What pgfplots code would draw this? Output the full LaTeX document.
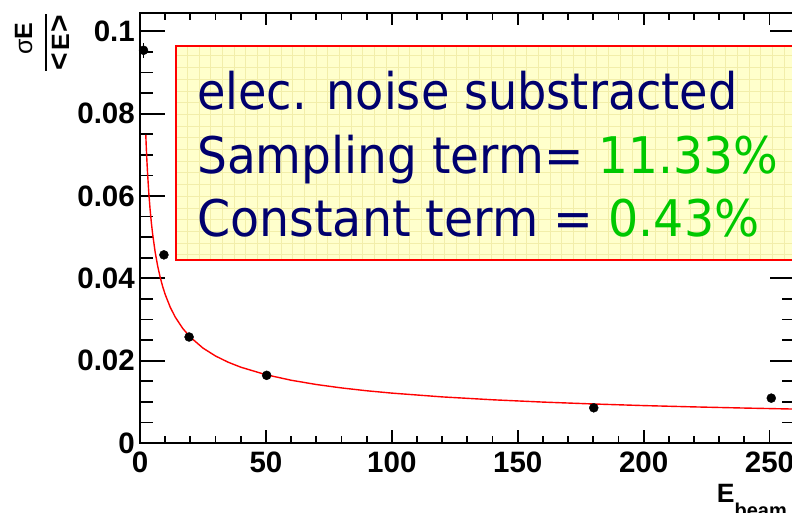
\documentclass[border=0pt]{standalone}
\usepackage{pgfplots}
\pgfplotsset{compat=1.18}
\usepackage{fontspec}
\setmainfont{Liberation Sans}
\newfontfamily\boxfont[FakeStretch=0.915]{DejaVu Sans}
\definecolor{navy}{RGB}{0,0,110}
\definecolor{fitgreen}{RGB}{0,200,0}
\definecolor{paveyellow}{RGB}{255,255,204}
\definecolor{pavegrid}{RGB}{242,238,170}

% measured energy resolution
\pgfplotstableread{
E      res      err
1.4    0.0954   0.0018
9.5    0.0457   0.0005
19.5   0.02575  0.0005
50.3   0.01644  0.0005
180.2  0.00855  0.0008
250.7  0.0109   0.0005
}\resdata

\pgfplotsset{
  frame/.style={
    at={(140pt,69pt)}, anchor=south west,
    scale only axis, width=654.7pt, height=430.2pt,
    xmin=0, xmax=260, ymin=0, ymax=0.1045,
    axis line style={line width=1.8pt},
    tick align=inside,
    every tick/.style={black, line width=1.8pt},
    ticklabel style={font=\bfseries\fontsize{29.5}{30}\selectfont, inner sep=0pt},
  }
}

\begin{document}
\begin{tikzpicture}[x=1pt,y=1pt]
\useasboundingbox (0,0) rectangle (792,512);
\clip (0,0) rectangle (792,512);
% frame with the energy ticks
\begin{axis}[frame,
  ytick=\empty,
  xtick={0,50,100,150,200,250}, xticklabels={0,50,100,150,200,250},
  minor x tick num=4,
  major tick length=12.6pt, minor tick length=7.5pt,
  xticklabel style={yshift=-9pt},
]
\end{axis}
% frame with the resolution ticks, and the data
\begin{axis}[frame,
  xtick=\empty,
  ytick={0,0.02,0.04,0.06,0.08,0.1}, yticklabels={0,0.02,0.04,0.06,0.08,0.1},
  minor y tick num=3,
  major tick length=25pt, minor tick length=13pt,
  yticklabel style={xshift=-5pt},
]
% resolution fit sqrt(a^2/E + b^2), a = 11.33%, b = 0.43%
\addplot[red, line width=1.4pt, no marks] coordinates {
  (2.3,0.07483) (2.5,0.07179) (2.75,0.06846) (3,0.06556) (3.5,0.06071)
  (4,0.05681) (4.5,0.05358) (5,0.05085) (6,0.04645) (7,0.04304)
  (8,0.04029) (9,0.03801) (10,0.03609) (12,0.03299) (14,0.03058)
  (17,0.02781) (20,0.02570) (25,0.02306) (30,0.02113) (35,0.01963)
  (40,0.01842) (50,0.01659) (60,0.01525) (70,0.01421) (80,0.01338)
  (90,0.01269) (100,0.01212) (120,0.01120) (140,0.01050) (160,0.00994)
  (180,0.00948) (200,0.00909) (220,0.00877) (240,0.00849) (260,0.00824)
};
\addplot[black, only marks, mark=*, mark size=4.5pt,
  error bars/.cd, y dir=both, y explicit, error mark=none,
  error bar style={line width=1.5pt}]
  table[x=E, y=res, y error=err] {\resdata};
\end{axis}

% fit result box
\fill[paveyellow] (176,252) rectangle (800,466);
\begin{scope}
  \clip (176,252) rectangle (800,466);
  \draw[pavegrid, line width=0.5pt] (176,252) grid[step=11.7] (800,466);
\end{scope}
\draw[red, line width=2pt] (176,252) rectangle (800,466);
\begin{scope}[every node/.style={anchor=base west, inner sep=0pt, text=navy,
    font=\boxfont\fontsize{50.5}{50.5}\selectfont}]
  \node at (197,402) {elec. noise substracted};
  \node at (197,338.7) {\scalebox{1.018}[1]{Sampling term= \textcolor{fitgreen}{11.33\%}}};
  \node at (197,275) {\scalebox{1.028}[1]{Constant term = \textcolor{fitgreen}{0.43\%}}};
\end{scope}

% y axis title: sigma_E / <E>
\begin{scope}[shift={(45.7,470)}, rotate=90, transform shape]
  \draw[line width=2.2pt] (-29,0) -- (28.3,0);
  \node[anchor=base, inner sep=0pt, font=\bfseries\fontsize{25}{25}\selectfont]
    at (3.6,13.5) {{\mdseries σ}E};
  \node[anchor=base, inner sep=0pt, font=\bfseries\fontsize{25}{25}\selectfont]
    at (-0.6,-23.5) {{\fontsize{30}{30}\selectfont<}\hspace{2pt}E\hspace{2pt}{\fontsize{30}{30}\selectfont>}};
\end{scope}

% x axis title
\node[anchor=base west, inner sep=0pt, font=\bfseries\fontsize{26.5}{26.5}\selectfont]
  at (716.7,10) {E\raisebox{-15.2pt}{\fontsize{20}{20}\selectfont beam}};
\end{tikzpicture}
\end{document}
